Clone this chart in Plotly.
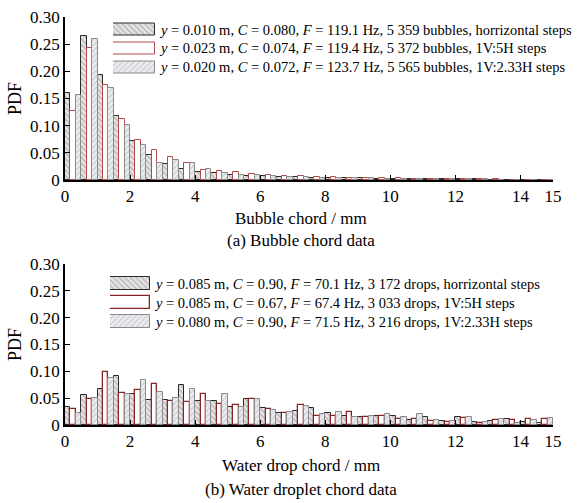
import plotly.graph_objects as go

# ---------------- data ----------------
bin_centers = [0.25, 0.75, 1.25, 1.75, 2.25, 2.75, 3.25, 3.75, 4.25, 4.75,
               5.25, 5.75, 6.25, 6.75, 7.25, 7.75, 8.25, 8.75, 9.25, 9.75,
               10.25, 10.75, 11.25, 11.75, 12.25, 12.75, 13.25, 13.75, 14.25, 14.75]

bub_horiz = [0.160, 0.265, 0.193, 0.118, 0.072, 0.046, 0.029, 0.021, 0.015, 0.012,
             0.010, 0.008, 0.007, 0.006, 0.005, 0.004, 0.004, 0.003, 0.003, 0.002,
             0.002, 0.002, 0.001, 0.001, 0.001, 0.001, 0.0, 0.0, 0.0, 0.0]
bub_5h = [0.127, 0.243, 0.174, 0.113, 0.074, 0.056, 0.042, 0.032, 0.018, 0.017,
          0.014, 0.011, 0.009, 0.008, 0.007, 0.006, 0.005, 0.004, 0.004, 0.003,
          0.003, 0.002, 0.002, 0.001, 0.001, 0.001, 0.001, 0.0, 0.0, 0.0]
bub_233h = [0.157, 0.259, 0.169, 0.102, 0.065, 0.031, 0.037, 0.031, 0.020, 0.012,
            0.010, 0.009, 0.008, 0.006, 0.005, 0.004, 0.003, 0.003, 0.003, 0.002,
            0.002, 0.002, 0.002, 0.001, 0.001, 0.001, 0.0, 0.0, 0.0, 0.0]

drop_horiz = [0.033, 0.056, 0.067, 0.092, 0.057, 0.046, 0.047, 0.075, 0.045, 0.044,
              0.033, 0.048, 0.031, 0.023, 0.027, 0.031, 0.022, 0.016, 0.015, 0.016,
              0.016, 0.010, 0.014, 0.007, 0.014, 0.005, 0.007, 0.012, 0.005, 0.003]
drop_5h = [0.029, 0.048, 0.098, 0.059, 0.065, 0.076, 0.045, 0.042, 0.057, 0.040,
           0.038, 0.048, 0.029, 0.023, 0.037, 0.017, 0.016, 0.025, 0.014, 0.017,
           0.011, 0.012, 0.008, 0.006, 0.013, 0.004, 0.010, 0.009, 0.012, 0.011]
drop_233h = [0.023, 0.050, 0.087, 0.057, 0.083, 0.062, 0.050, 0.067, 0.045, 0.057,
             0.033, 0.048, 0.028, 0.024, 0.035, 0.020, 0.025, 0.014, 0.016, 0.020,
             0.015, 0.020, 0.010, 0.008, 0.015, 0.006, 0.012, 0.004, 0.010, 0.013]

x_tickvals = [0, 2, 4, 6, 8, 10, 12, 14, 15]
x_ticktext = ["0", "2", "4", "6", "8", "10", "12", "14", "15"]
y_tickvals = [0, 0.05, 0.10, 0.15, 0.20, 0.25, 0.30]
y_ticktext = ["0", "0.05", "0.10", "0.15", "0.20", "0.25", "0.30"]

bub_labels = [
    "<i>y</i> = 0.010 m, <i>C</i> = 0.080, <i>F</i> = 119.1 Hz, 5 359 bubbles, horrizontal steps",
    "<i>y</i> = 0.023 m, <i>C</i> = 0.074, <i>F</i> = 119.4 Hz, 5 372 bubbles, 1V:5H steps",
    "<i>y</i> = 0.020 m, <i>C</i> = 0.072, <i>F</i> = 123.7 Hz, 5 565 bubbles, 1V:2.33H steps",
]
drop_labels = [
    "<i>y</i> = 0.085 m, <i>C</i> = 0.90, <i>F</i> = 70.1 Hz, 3 172 drops, horrizontal steps",
    "<i>y</i> = 0.085 m, <i>C</i> = 0.67, <i>F</i> = 67.4 Hz, 3 033 drops, 1V:5H steps",
    "<i>y</i> = 0.080 m, <i>C</i> = 0.90, <i>F</i> = 71.5 Hz, 3 216 drops, 1V:2.33H steps",
]

# ---------------- styles ----------------
FONT = "Liberation Serif"
styles = [
    dict(color="#e4e4e4", line=dict(color="#2a2a2a", width=1),
         pattern=dict(shape="\\", fgcolor="#6a6a6a", bgcolor="#e4e4e4", size=4, solidity=0.25)),
    dict(color="#ffffff", line=dict(color="#b24a4a", width=1)),
    dict(color="#e6e6ec", line=dict(color="#8a8a8a", width=1),
         pattern=dict(shape="/", fgcolor="#9a9aa6", bgcolor="#ececf0", size=4, solidity=0.25)),
]
styles_b = [
    dict(color="#e4e4e4", line=dict(color="#2a2a2a", width=1),
         pattern=dict(shape="\\", fgcolor="#6a6a6a", bgcolor="#e4e4e4", size=4, solidity=0.25)),
    dict(color="#ffffff", line=dict(color="#8a2424", width=1.3)),
    dict(color="#e6e6ec", line=dict(color="#8a8a8a", width=1),
         pattern=dict(shape="/", fgcolor="#9a9aa6", bgcolor="#ececf0", size=4, solidity=0.25)),
]

fig = go.Figure()

top_series = [bub_horiz, bub_5h, bub_233h]
bot_series = [drop_horiz, drop_5h, drop_233h]

for i, s in enumerate(top_series):
    fig.add_trace(go.Bar(x=bin_centers, y=s, marker=styles[i], xaxis="x", yaxis="y",
                         offsetgroup=str(i), showlegend=False, hoverinfo="x+y"))
for i, s in enumerate(bot_series):
    fig.add_trace(go.Bar(x=bin_centers, y=s, marker=styles_b[i], xaxis="x2", yaxis="y2",
                         offsetgroup=str(i), showlegend=False, hoverinfo="x+y"))

# legend swatches (horizontal bars on small helper axes)
for i in range(3):
    fig.add_trace(go.Bar(x=[1], y=[i], orientation="h", width=0.66, marker=styles[i],
                         xaxis="x3", yaxis="y3", showlegend=False, hoverinfo="skip"))
    fig.add_trace(go.Bar(x=[1], y=[i], orientation="h", width=0.66, marker=styles_b[i],
                         xaxis="x4", yaxis="y4", showlegend=False, hoverinfo="skip"))

W, H = 581, 503
ML, MR, MT, MB = 65, 28, 17, 78
PH = H - MT - MB
PW = W - ML - MR


def py(px):
    return (H - MB - px) / PH


def pxx(px):
    return (px - ML) / PW


axis_common = dict(showline=True, linecolor="black", linewidth=1.5, ticks="inside",
                   ticklen=5, tickwidth=1.2, tickcolor="black", showgrid=False,
                   zeroline=False, automargin=False,
                   tickfont=dict(family=FONT, size=17, color="black"))

xa = dict(axis_common, range=[0, 15], tickvals=x_tickvals, ticktext=x_ticktext)
ya = dict(axis_common, range=[0, 0.30], tickvals=y_tickvals, ticktext=y_ticktext)

fig.update_layout(
    width=W, height=H,
    margin=dict(l=ML, r=MR, t=MT, b=MB, autoexpand=False),
    paper_bgcolor="white", plot_bgcolor="white",
    barmode="group", bargap=0, bargroupgap=0,
    font=dict(family=FONT, color="black"),
    xaxis=dict(xa, domain=[0, 1], anchor="y"),
    yaxis=dict(ya, domain=[py(180), py(17)], anchor="x",
               title=dict(text="PDF", font=dict(family=FONT, size=18), standoff=4)),
    xaxis2=dict(xa, domain=[0, 1], anchor="y2"),
    yaxis2=dict(ya, domain=[py(425), py(264)], anchor="x2",
                title=dict(text="PDF", font=dict(family=FONT, size=18), standoff=4)),
    xaxis3=dict(domain=[pxx(113), pxx(155)], range=[0, 1], visible=False, anchor="y3",
                fixedrange=True, automargin=False),
    yaxis3=dict(domain=[py(20.5 + 56), py(20.5)], range=[2.5, -0.5], visible=False,
                anchor="x3", fixedrange=True, automargin=False),
    xaxis4=dict(domain=[pxx(110), pxx(150)], range=[0, 1], visible=False, anchor="y4",
                fixedrange=True, automargin=False),
    yaxis4=dict(domain=[py(274 + 57), py(274)], range=[2.5, -0.5], visible=False,
                anchor="x4", fixedrange=True, automargin=False),
)

ann = []
for i, t in enumerate(bub_labels):
    ann.append(dict(text=t, xref="paper", x=pxx(157), xanchor="left", yref="y3", y=i,
                    yanchor="middle", showarrow=False,
                    font=dict(family=FONT, size=14.5, color="black")))
for i, t in enumerate(drop_labels):
    ann.append(dict(text=t, xref="paper", x=pxx(152), xanchor="left", yref="y4", y=i,
                    yanchor="middle", showarrow=False,
                    font=dict(family=FONT, size=14.5, color="black")))

titles = [("Bubble chord / mm", 218), ("(a) Bubble chord data", 240),
          ("Water drop chord / mm", 465), ("(b) Water droplet chord data", 490)]
for t, ypx in titles:
    ann.append(dict(text=t, xref="paper", x=pxx(301), xanchor="center", yref="paper",
                    y=py(ypx), yanchor="middle", showarrow=False,
                    font=dict(family=FONT, size=17, color="black")))

fig.update_layout(annotations=ann)

fig.write_html("out.html", config={"displayModeBar": False},
               post_script="document.body.style.margin='0';document.body.style.padding='0';")
